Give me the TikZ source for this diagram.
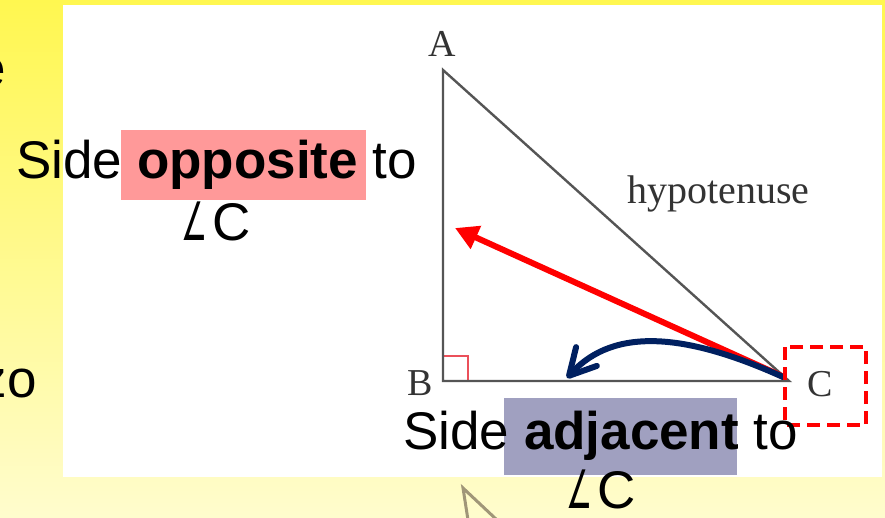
\documentclass[tikz,border=0pt]{standalone}
\usepackage{fontspec}
\setmainfont{Liberation Sans}
\newfontfamily\serifA{Liberation Serif}
\newfontfamily\symf{DejaVu Sans}
\usetikzlibrary{arrows.meta}
\definecolor{ytop}{RGB}{255,247,80}
\definecolor{ybot}{RGB}{255,252,205}
\definecolor{pinkhl}{RGB}{255,153,153}
\definecolor{bluehl}{RGB}{160,160,192}
\definecolor{navyarr}{RGB}{0,32,96}
\definecolor{trigray}{RGB}{85,85,85}
\definecolor{olivegray}{RGB}{160,150,120}
\definecolor{rightred}{RGB}{235,80,90}
\newcommand{\angsym}{\scalebox{0.55}[1]{\symf ∠}\kern5pt}
\begin{document}
\begin{tikzpicture}[x=1pt,y=-1pt,
  big/.style={font=\fontsize{53}{60}\selectfont, inner sep=0pt},
  lbl/.style={font=\serifA\fontsize{38}{40}\selectfont, inner sep=0pt, text=black!80},
  hyplbl/.style={font=\serifA\fontsize{40}{44}\selectfont, inner sep=0pt, text=black!80},
  ]
\useasboundingbox (0,0) rectangle (885,517);
\clip (0,0) rectangle (885,517);
\shade[top color=ytop, bottom color=ybot] (0,0) rectangle (885,517);
% background slide text, partly hidden
\node[big, anchor=base east] (bge) at (6,86) {e};
\node[big, anchor=base east] (bgzo) at (37,397) {zo};
\draw[olivegray, line width=3] (468,520) -- (463,488) -- (497,520);
% white picture
\fill[white] (63,5) rectangle (882,477);
% highlights
\fill[pinkhl] (121,130) rectangle (366,200);
\fill[bluehl] (504,398) rectangle (737,475);
% triangle
\coordinate (A) at (443,70);
\coordinate (B) at (443,381);
\coordinate (C) at (789,381);
\draw[rightred, line width=2] (443,356) rectangle (468,381);
\draw[trigray, line width=2.4, line join=miter] (A) -- (B) -- (C) -- cycle;
\node[lbl] (la) at (442,44) {A};
\node[lbl] (lb) at (420,383) {B};
\node[lbl] (lc) at (820,384) {C};
\node[hyplbl, anchor=base west] (hyp) at (627,203) {hypotenuse};
% arrows
\coordinate (rs) at (784,377);
\coordinate (rt) at (455,228);
\coordinate (ns) at (783,377);
\coordinate (nt) at (567,378);
\draw[red, line width=6, -{Triangle[length=23pt,width=24pt]}] (rs) -- (rt);
\draw[navyarr, line width=6, line cap=round,
  -{Straight Barb[length=26pt,width=28pt,line cap=round,line join=round]}]
  (ns) .. controls (690,335) and (615,325) .. (nt);
\draw[red, line width=4, dash pattern=on 13pt off 7pt] (785,347) rectangle (866,425);
% texts
\node[big, anchor=base west] (opp) at (16,178) {Side \textbf{opposite} to};
\node[big, anchor=base] (angc1) at (216,240) {\angsym C};
\node[big, anchor=base west] (adj) at (403,449) {Side \textbf{adjacent} to};
\node[big, anchor=base] (angc2) at (601,508) {\angsym C};
\end{tikzpicture}
\end{document}
